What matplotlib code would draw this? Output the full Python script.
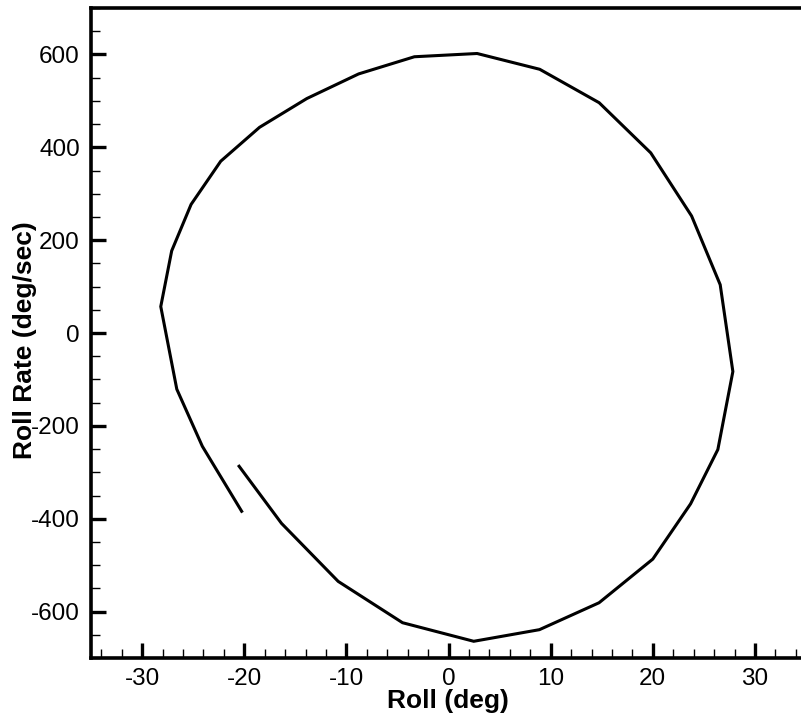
import matplotlib
matplotlib.use("Agg")
import matplotlib.pyplot as plt
from matplotlib.ticker import MultipleLocator

# Roll / roll-rate phase trajectory (deg, deg/sec)
roll = [-20.25, -24.1, -26.6, -28.17, -27.1, -25.2, -22.3, -18.5, -13.87, -8.8,
        -3.34, 2.8, 8.93, 14.75, 19.8, 23.8, 26.6, 27.84, 26.37, 23.7,
        20.0, 14.74, 8.9, 2.47, -4.5, -10.8, -16.35, -20.5]
roll_rate = [-384, -244, -121, 57, 177, 277, 370, 443, 505, 558,
             595, 602, 568, 496, 388, 252, 104, -83, -251, -368,
             -487, -581, -639, -664, -624, -535, -410, -287]

x_ticks = [-30, -20, -10, 0, 10, 20, 30]
y_ticks = [-600, -400, -200, 0, 200, 400, 600]

plt.rcParams['font.family'] = ['Liberation Sans', 'DejaVu Sans']

fig = plt.figure(figsize=(8.01, 7.23), dpi=100)
ax = fig.add_axes([91 / 801, 65 / 723, 715 / 801, 650 / 723])

ax.plot(roll, roll_rate, color='black', linewidth=2.2, solid_joinstyle='miter')

ax.set_xlim(-35, 35)
ax.set_ylim(-700, 700)
ax.set_xticks(x_ticks)
ax.set_yticks(y_ticks)
ax.set_xticklabels([str(v) for v in x_ticks])
ax.set_yticklabels([str(v) for v in y_ticks])
ax.xaxis.set_minor_locator(MultipleLocator(2))
ax.yaxis.set_minor_locator(MultipleLocator(50))

ax.tick_params(which='major', direction='in', length=11, width=2.4,
               labelsize=17.5, pad=7, top=False, right=False)
ax.tick_params(which='minor', direction='in', length=6.5, width=1.0,
               top=False, right=False)
ax.tick_params(axis='y', which='major', pad=8)

for side in ['left', 'bottom', 'top']:
    ax.spines[side].set_linewidth(2.6)
ax.spines['right'].set_visible(False)

ax.set_xlabel('Roll (deg)', fontsize=19, fontweight='bold', va='center')
ax.set_ylabel('Roll Rate (deg/sec)', fontsize=19, fontweight='bold',
              ha='center', va='center')
ax.xaxis.set_label_coords(0.499, -0.066)
ax.yaxis.set_label_coords(-0.092, 0.489)

fig.savefig('out.png', dpi=100)
